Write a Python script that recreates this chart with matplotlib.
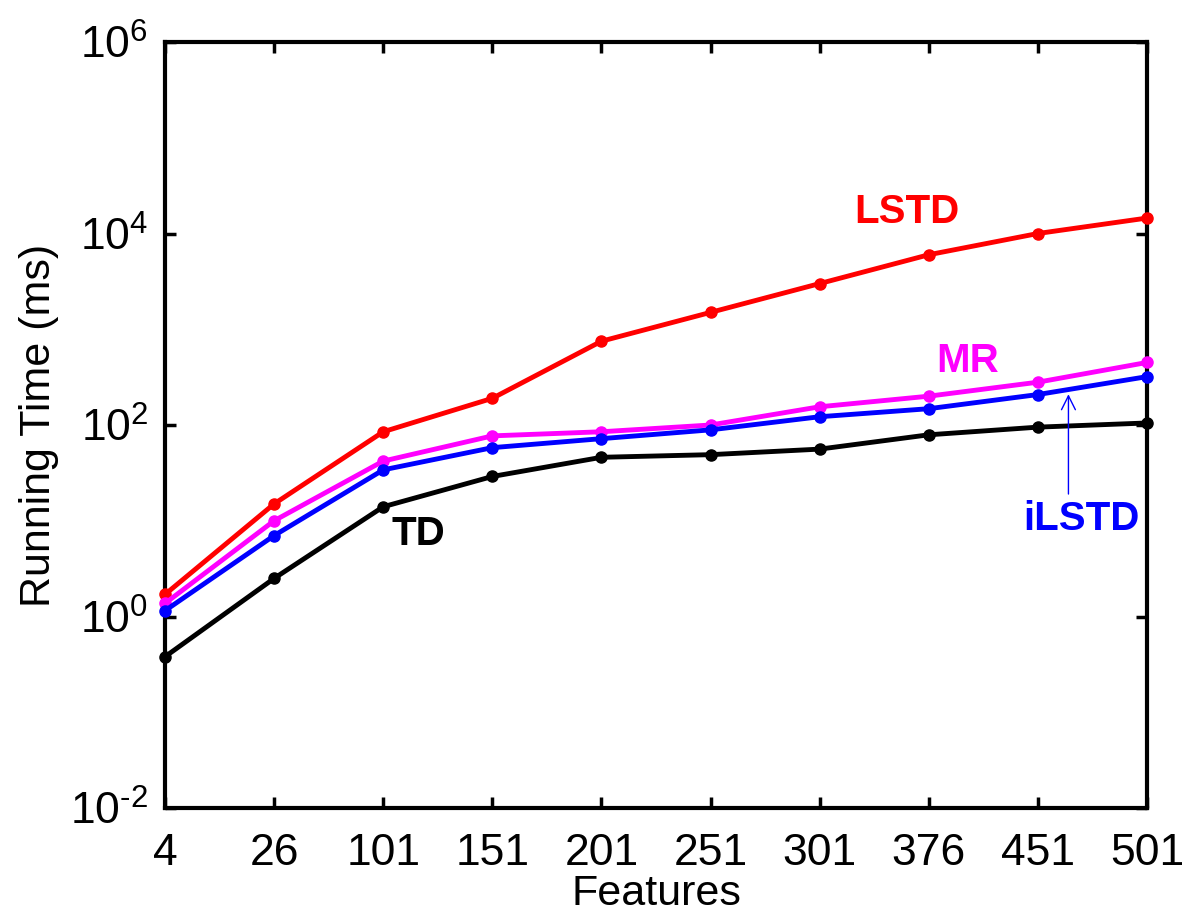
import matplotlib
matplotlib.use("Agg")
import matplotlib.pyplot as plt
from matplotlib.ticker import FixedFormatter

features = ["4", "26", "101", "151", "201", "251", "301", "376", "451", "501"]
lstd = [1.7, 15, 85, 190, 750, 1500, 3000, 6000, 10000, 14500]
mr = [1.37, 10, 42, 77, 85, 100, 155, 200, 280, 450]
ilstd = [1.15, 7, 34, 58, 72, 89, 122, 148, 208, 320]
td = [0.38, 2.5, 14, 29, 46, 49, 56, 79, 95, 105]
ytick_vals = [1e-2, 1e0, 1e2, 1e4, 1e6]
ytick_labels = [r'$\mathregular{10^{\text{-}2}}$', r'$\mathregular{10^{0}}$',
                r'$\mathregular{10^{2}}$', r'$\mathregular{10^{4}}$', r'$\mathregular{10^{6}}$']

plt.rcParams['font.family'] = ['Liberation Sans', 'DejaVu Sans']
plt.rcParams['mathtext.fontset'] = 'custom'
plt.rcParams['mathtext.rm'] = 'Liberation Sans'
plt.rcParams['mathtext.it'] = 'Liberation Sans:italic'
plt.rcParams['mathtext.bf'] = 'Liberation Sans:bold'

fig = plt.figure(figsize=(11.89, 9.17), dpi=100)
ax = fig.add_axes([165/1189, 1 - 808/917, (1147-165)/1189, (808-42)/917])

x = list(range(len(features)))
for y, c in [(lstd, '#ff0000'), (mr, '#ff00ff'), (ilstd, '#0000ff'), (td, '#000000')]:
    ax.plot(x, y, color=c, lw=3.5, marker='o', ms=8, clip_on=False, zorder=3)

ax.set_yscale('log')
ax.set_ylim(1e-2, 1e6)
ax.set_xlim(0, 9)
ax.set_yticks(ytick_vals)
ax.yaxis.set_major_formatter(FixedFormatter(ytick_labels))
ax.minorticks_off()
ax.set_xticks(x)
ax.set_xticklabels(features)
ax.tick_params(direction='in', length=8, width=2.5, labelsize=32, top=True, right=True)
ax.tick_params(axis='x', pad=18)
ax.tick_params(axis='y', pad=12)
for s in ax.spines.values():
    s.set_linewidth(3)
ax.set_xlabel('Features', fontsize=31, labelpad=0)
ax.set_ylabel('Running Time (ms)', fontsize=31, labelpad=8)

ax.text(6.8, 10**4.22, 'LSTD', color='#ff0000', fontsize=29, fontweight='bold', ha='center', va='center')
ax.text(7.36, 10**2.67, 'MR', color='#ff00ff', fontsize=29, fontweight='bold', ha='center', va='center')
ax.text(2.32, 10**0.86, 'TD', color='#000000', fontsize=29, fontweight='bold', ha='center', va='center')
ax.text(8.4, 10**1.02, 'iLSTD', color='#0000ff', fontsize=29, fontweight='bold', ha='center', va='center')
ax.annotate('', xy=(8.28, 10**2.35), xytext=(8.28, 10**1.25),
            arrowprops=dict(arrowstyle='->', color='#0000ff', lw=1, mutation_scale=25))

fig.savefig('out.png', dpi=100)
